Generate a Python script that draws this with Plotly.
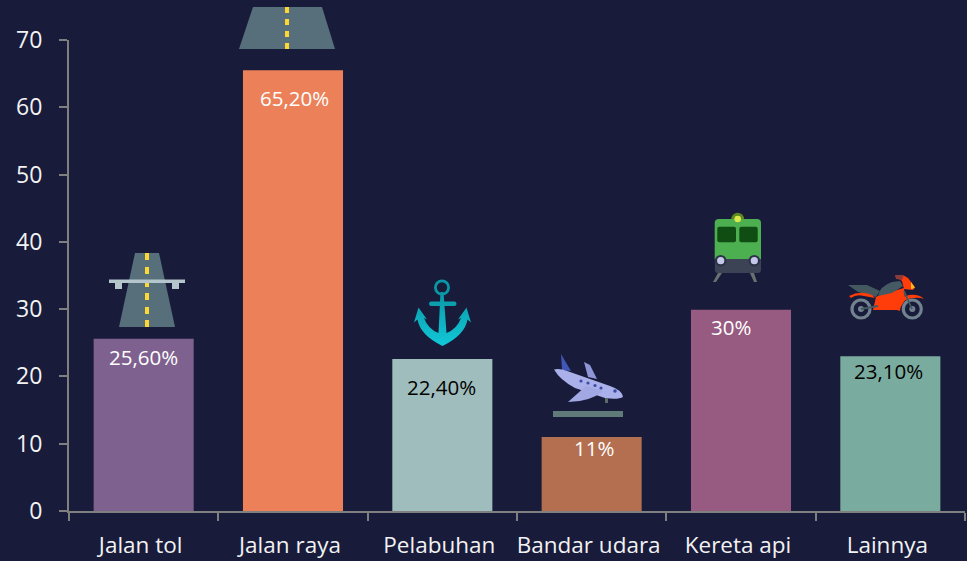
import base64
import plotly.graph_objects as go

categories = ["Jalan tol", "Jalan raya", "Pelabuhan", "Bandar udara", "Kereta api", "Lainnya"]
values = [25.6, 65.5, 22.6, 11, 29.9, 23]
labels = ["25,60%", "65,20%", "22,40%", "11%", "30%", "23,10%"]
bar_colors = ["#7f6190", "#ec8159", "#9fbdbc", "#b46f50", "#975a80", "#7aab9f"]
label_colors = ["#ffffff", "#ffffff", "#000000", "#ffffff", "#ffffff", "#000000"]
label_dx = [0, 1, -1, 2, -10, -2]
label_dy = [-18, -28, -28, -11, -17, -15]
y_ticks = [0, 10, 20, 30, 40, 50, 60, 70]

W, H = 967, 561
L, R, T, B = 69, 2, 40, 50
BG = "#181b3a"

fig = go.Figure(go.Bar(x=categories, y=values, marker=dict(color=bar_colors, line_width=0),
                       width=0.67, hoverinfo="skip"))

for c, v, t, col, dx, dy in zip(categories, values, labels, label_colors, label_dx, label_dy):
    fig.add_annotation(x=c, y=v, text=t, showarrow=False, xshift=dx, yshift=dy,
                       font=dict(color=col, size=20.5, family="Open Sans"))


def icon(inner, x0, y0, x1, y1):
    w, h = x1 - x0, y1 - y0
    svg = (f'<svg xmlns="http://www.w3.org/2000/svg" width="{w}" height="{h}" '
           f'viewBox="{x0} {y0} {w} {h}">{inner}</svg>')
    src = "data:image/svg+xml;base64," + base64.b64encode(svg.encode()).decode()
    pw, ph = W - L - R, H - T - B
    fig.add_layout_image(source=src, xref="paper", yref="paper", layer="above",
                         x=(x0 - L) / pw, y=1 - (y0 - T) / ph,
                         sizex=w / pw, sizey=h / ph,
                         xanchor="left", yanchor="top", sizing="stretch")


ROAD, YEL = "#566f7a", "#fdd835"
dashes1 = "".join(f'<rect x="145" y="{y}" width="4" height="{h}" fill="{YEL}"/>'
                  for y, h in [(253, 7), (267, 7), (280, 7), (293, 7), (307, 7), (320, 7)])
icon(f'<path d="M135 253H159L175 327H119Z" fill="{ROAD}"/>{dashes1}'
     '<rect x="109" y="279.5" width="76" height="3.5" fill="#b4c5cc"/>'
     '<rect x="115" y="283" width="7" height="6" fill="#b4c5cc"/>'
     '<rect x="172" y="283" width="7" height="6" fill="#b4c5cc"/>', 105, 250, 190, 330)

dashes2 = "".join(f'<rect x="285" y="{y}" width="4" height="6" fill="{YEL}"/>' for y in (7, 19, 31, 43))
icon(f'<path d="M253 7H322L335 49H239Z" fill="{ROAD}"/>{dashes2}', 235, 5, 340, 52)

icon('<defs><linearGradient id="a" x1="0" y1="0" x2="0" y2="1"><stop offset="0" stop-color="#0a97a5"/>'
     '<stop offset="1" stop-color="#11c8d8"/></linearGradient></defs>'
     '<circle cx="442" cy="287.5" r="6.6" fill="none" stroke="#0a97a5" stroke-width="2.8"/>'
     '<rect x="429" y="301.5" width="27.5" height="4.5" rx="2.2" fill="#0c9fad"/>'
     '<path d="M440.5 292H443.5L446.5 333Q457 329 461 318L458 319.5L466.5 307.5L471 322.5L467.5 319.5'
     'Q465 335 442.5 346Q420 335 417.5 319.5L414 322.5L418.5 307.5L427 319.5L424 318Q428 329 438.5 333Z" fill="url(#a)"/>',
     410, 278, 475, 350)

icon('<path d="M561 354L571 371L562 370Z" fill="#4257b5"/>'
     '<path d="M584 362L590 365L597 379L588 377Z" fill="#8e96d8"/>'
     '<path d="M554 369.5Q560 368 570 372L610 386Q622 390 623 397Q618 400 605 398L575 388Q560 380 554 369.5Z" fill="#aab1ea"/>'
     '<path d="M568 402L586 386L603 391Q590 402 568 402Z" fill="#a2a8e4"/>'
     '<rect x="605" y="398" width="3" height="5" fill="#5c6a6a"/>'
     '<g fill="#3d4aa8"><circle cx="581" cy="381" r="1.6"/><circle cx="588" cy="383" r="1.6"/>'
     '<circle cx="595" cy="385.5" r="1.6"/><circle cx="601" cy="388" r="1.6"/><circle cx="615" cy="391" r="1.8"/></g>'
     '<rect x="553" y="411" width="70" height="6" fill="#5f7a78"/>', 550, 350, 627, 420)

icon('<path d="M718 273L722 273L716 282H713Z" fill="#6b7070"/><path d="M750 273L754 273L757 282H754Z" fill="#6b7070"/>'
     '<circle cx="737.7" cy="219" r="6.3" fill="#5c8a1f"/>'
     '<path d="M719 219H757Q761 219 761 223V259H714.7V223Q714.7 219 719 219Z" fill="#4caf50"/>'
     '<circle cx="737.7" cy="219" r="3.3" fill="#dbe84c"/>'
     '<path d="M714.7 259H761V270Q761 273 758 273H718Q715 273 715 270Z" fill="#3c4354"/>'
     '<rect x="717.3" y="226.7" width="18.7" height="15.6" rx="2" fill="#0f4d12"/>'
     '<rect x="739.3" y="226.7" width="18.4" height="15.6" rx="2" fill="#0f4d12"/>'
     '<circle cx="720.7" cy="260.7" r="5.8" fill="#2c3348"/><circle cx="754.3" cy="260.7" r="5.8" fill="#2c3348"/>'
     '<circle cx="720.7" cy="260.7" r="3.6" fill="#c5c8e8"/><circle cx="754.3" cy="260.7" r="3.6" fill="#c5c8e8"/>',
     710, 210, 765, 285)

icon('<g fill="none" stroke="#72838f" stroke-width="3.2"><circle cx="861" cy="309" r="9"/><circle cx="912.3" cy="309" r="9"/></g>'
     '<circle cx="861" cy="309" r="3" fill="#72838f"/><circle cx="912.3" cy="309" r="3" fill="#72838f"/>'
     '<path d="M848 285L867 285L880 291L876 297L858 292Z" fill="#44595f"/>'
     '<path d="M849 296Q860 290 872 295L875 298L864 296Q856 294 851 298Z" fill="#ff3d0a"/>'
     '<path d="M873 310L876 297L880 295L904 288L905 300L899 310Z" fill="#ff3d0a"/>'
     '<path d="M878 296Q880 286 892 282L900 281L903 286L892 293Z" fill="#465a64"/>'
     '<path d="M895 276Q902 273 908 278L915 287L913 290L904 289L902 281Z" fill="#ff3d0a"/>'
     '<path d="M895 275L904 275L902 280L896 279Z" fill="#8c3a3a"/>'
     '<path d="M911 282L915 288L911 289Z" fill="#fdc01a"/>'
     '<path d="M897 310Q897 298 909 295Q919 294 924 299L921 298Q911 297 904 301Q900 305 900 311Z" fill="#ff3d0a"/>'
     '<path d="M904 291L912 309" stroke="#44595f" stroke-width="1.8" fill="none"/>'
     '<path d="M861 309L878 306" stroke="#44595f" stroke-width="2" fill="none"/>', 845, 270, 927, 323)

fig.update_layout(
    width=W, height=H, margin=dict(l=L, r=R, t=T, b=B, pad=0, autoexpand=False),
    paper_bgcolor=BG, plot_bgcolor=BG, showlegend=False, bargap=0.33,
    font=dict(family="Open Sans", color="#f2f2f2"),
    xaxis=dict(type="category", categoryorder="array", categoryarray=categories,
               range=[-0.5, 5.5], showgrid=False, zeroline=False, automargin=False, tickangle=0,
               showline=True, linecolor="#7f7f7f", linewidth=2,
               ticks="outside", tickson="boundaries", ticklen=8, tickwidth=2, tickcolor="#7f7f7f",
               tickfont=dict(size=22.5, color="#f2f2f2"), ticklabelstandoff=13, ticklabelshift=-3),
    yaxis=dict(range=[0, 70], tickvals=y_ticks, showgrid=False, zeroline=False, automargin=False,
               showline=True, linecolor="#7f7f7f", linewidth=2,
               ticks="outside", ticklen=8, tickwidth=2, tickcolor="#7f7f7f",
               tickfont=dict(size=23, color="#f2f2f2"), ticklabelstandoff=12),
)
fig.write_html("out.html", config={"displayModeBar": False},
               post_script="document.body.style.margin='0';document.body.style.background='#181b3a';document.documentElement.style.overflow='hidden';")
